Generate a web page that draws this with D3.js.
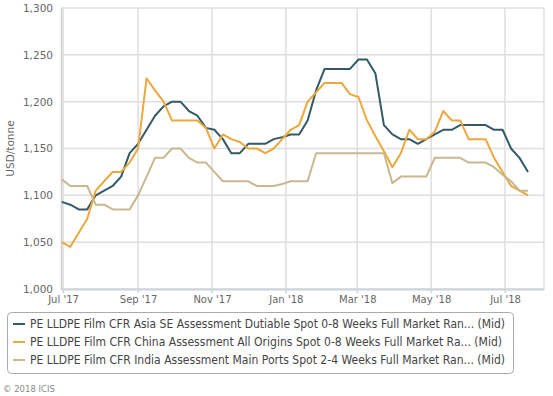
<!DOCTYPE html>
<html>
<head>
<meta charset="utf-8">
<script src="https://cdn.jsdelivr.net/npm/d3@7"></script>
<style>
  body { margin: 0; background: #fff; }
  svg { display: block; font-family: "DejaVu Sans", sans-serif; }
</style>
</head>
<body>
<div id="chart"></div>
<script>
var width = 553,
    height = 396;

// weekly assessments, Fridays 30 Jun 2017 .. 20 Jul 2018
var weeks = d3.timeDay.range(new Date(2017, 5, 30), new Date(2018, 6, 21), 7);

var asiaSE = [1093, 1090, 1085, 1085, 1100, 1105, 1110, 1120, 1145, 1155,
    1170, 1185, 1195, 1200, 1200, 1190, 1185, 1172, 1170, 1160,
    1145, 1145, 1155, 1155, 1155, 1160, 1162, 1165, 1165, 1180,
    1212, 1235, 1235, 1235, 1235, 1245, 1245, 1230, 1175, 1165,
    1160, 1160, 1155, 1160, 1165, 1170, 1170, 1175, 1175, 1175,
    1175, 1170, 1170, 1150, 1140, 1125];

var china = [1050, 1045, 1060, 1075, 1105, 1115, 1125, 1125, 1135, 1150,
    1225, 1212, 1200, 1180, 1180, 1180, 1180, 1172, 1150, 1165,
    1160, 1157, 1150, 1150, 1145, 1150, 1160, 1170, 1175, 1200,
    1210, 1220, 1220, 1220, 1208, 1205, 1180, 1163, 1147, 1130,
    1145, 1170, 1160, 1160, 1168, 1190, 1180, 1180, 1160, 1160,
    1160, 1140, 1125, 1110, 1105, 1100];

var india = [1117, 1110, 1110, 1110, 1090, 1090, 1085, 1085, 1085, 1100,
    1120, 1140, 1140, 1150, 1150, 1140, 1135, 1135, 1125, 1115,
    1115, 1115, 1115, 1110, 1110, 1110, 1112, 1115, 1115, 1115,
    1145, 1145, 1145, 1145, 1145, 1145, 1145, 1145, 1145, 1113,
    1120, 1120, 1120, 1120, 1140, 1140, 1140, 1140, 1135, 1135,
    1135, 1130, 1122, 1115, 1105, 1105];

var seriesNames = [
    "PE LLDPE Film CFR Asia SE Assessment Dutiable Spot 0-8 Weeks Full Market Ran... (Mid)",
    "PE LLDPE Film CFR China Assessment All Origins Spot 0-8 Weeks Full Market Ra... (Mid)",
    "PE LLDPE Film CFR India Assessment Main Ports Spot 2-4 Weeks Full Market Ran... (Mid)"
];
var seriesColors = ["#335a66", "#eba83c", "#c9b78e"];

var xTickDates = [new Date(2017, 6, 1), new Date(2017, 8, 1), new Date(2017, 10, 1),
    new Date(2018, 0, 1), new Date(2018, 2, 1), new Date(2018, 4, 1), new Date(2018, 6, 1)];
var xTickLabels = ["Jul '17", "Sep '17", "Nov '17", "Jan '18", "Mar '18", "May '18", "Jul '18"];
var yTicks = [1000, 1050, 1100, 1150, 1200, 1250, 1300];

var plot = {left: 61, right: 544, top: 8, bottom: 289};

var svg = d3.select('#chart').append('svg')
    .attr('width', width)
    .attr('height', height);

var x = d3.scaleTime()
    .domain([new Date(2017, 5, 29, 8), new Date(2018, 7, 2, 5)])
    .range([plot.left, plot.right]);

var y = d3.scaleLinear()
    .domain([1000, 1300])
    .range([plot.bottom, plot.top]);

// grid
svg.append('g').selectAll('line.h')
    .data(yTicks)
    .enter().append('line')
    .attr('x1', plot.left).attr('x2', plot.right)
    .attr('y1', function(d) { return y(d); })
    .attr('y2', function(d) { return y(d); })
    .attr('stroke', '#dedede')
    .attr('stroke-width', 1.5);

svg.append('g').selectAll('line.v')
    .data(xTickDates)
    .enter().append('line')
    .attr('x1', function(d) { return x(d); })
    .attr('x2', function(d) { return x(d); })
    .attr('y1', plot.top).attr('y2', plot.bottom + 4)
    .attr('stroke', '#dedede')
    .attr('stroke-width', 1.5);

svg.append('line')
    .attr('x1', plot.right).attr('x2', plot.right)
    .attr('y1', plot.top).attr('y2', plot.bottom)
    .attr('stroke', '#dedede')
    .attr('stroke-width', 1.5);

// axes
var yAxis = d3.axisLeft(y)
    .tickValues(yTicks)
    .tickFormat(d3.format(','))
    .tickSize(0)
    .tickPadding(8);

var yg = svg.append('g')
    .attr('transform', 'translate(' + plot.left + ',0)')
    .call(yAxis);
yg.select('.domain').attr('stroke', '#cfcfcf').attr('stroke-width', 1.5);
yg.selectAll('text').attr('fill', '#666').attr('font-size', '10.5px')
    .attr('font-family', '"DejaVu Sans", sans-serif');

var xAxis = d3.axisBottom(x)
    .tickValues(xTickDates)
    .tickFormat(function(d, i) { return xTickLabels[i]; })
    .tickSize(4)
    .tickSizeOuter(0)
    .tickPadding(3);

var xg = svg.append('g')
    .attr('transform', 'translate(0,' + plot.bottom + ')')
    .call(xAxis);
xg.select('.domain').attr('stroke', '#ccd3de').attr('stroke-width', 2);
xg.selectAll('.tick line').attr('stroke', '#ccd3de');
xg.selectAll('text').attr('fill', '#666').attr('font-size', '10px')
    .attr('font-family', '"DejaVu Sans", sans-serif');

svg.append('text')
    .attr('transform', 'translate(14,' + ((plot.top + plot.bottom) / 2) + ') rotate(-90)')
    .attr('text-anchor', 'middle')
    .attr('fill', '#666')
    .attr('font-size', '10.5px')
    .text('USD/tonne');

// lines
var allSeries = [asiaSE, china, india];

var line = d3.line()
    .x(function(d, i) { return x(weeks[i]); })
    .y(function(d) { return y(d); });

svg.append('g').selectAll('path.series')
    .data(allSeries)
    .enter().append('path')
    .attr('class', 'series')
    .attr('d', line)
    .attr('fill', 'none')
    .attr('stroke', function(d, i) { return seriesColors[i]; })
    .attr('stroke-width', 2)
    .attr('stroke-linejoin', 'round');

// legend
var legend = svg.append('g');

legend.append('rect')
    .attr('x', 7.5).attr('y', 312.5)
    .attr('width', 506).attr('height', 61)
    .attr('rx', 4)
    .attr('fill', '#fff')
    .attr('stroke', '#aaa');

var item = legend.selectAll('g.item')
    .data(seriesNames)
    .enter().append('g')
    .attr('transform', function(d, i) { return 'translate(0,' + (324 + i * 18) + ')'; });

item.append('line')
    .attr('x1', 13).attr('x2', 25)
    .attr('stroke', function(d, i) { return seriesColors[i]; })
    .attr('stroke-width', 2);

item.append('text')
    .attr('x', 30)
    .attr('y', 4)
    .attr('fill', '#444')
    .attr('font-size', '11.5px')
    .attr('textLength', function(d, i) { return [475, 472, 475][i]; })
    .attr('lengthAdjust', 'spacingAndGlyphs')
    .text(function(d) { return d; });

svg.append('text')
    .attr('x', 3).attr('y', 392)
    .attr('fill', '#888')
    .attr('font-size', '8.5px')
    .text('\u00a9 2018 ICIS');
</script>
</body>
</html>
